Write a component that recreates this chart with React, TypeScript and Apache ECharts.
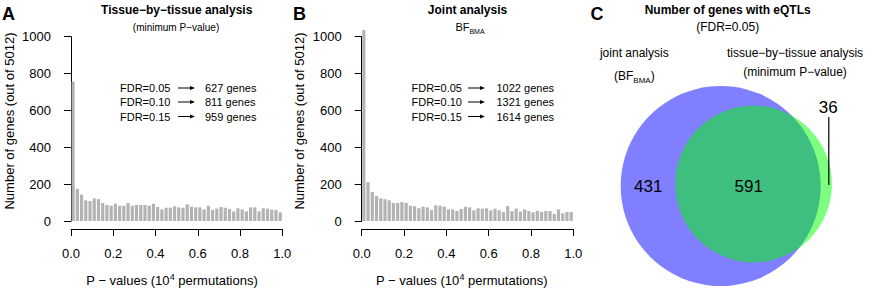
import React, { useEffect, useRef } from "react";
import * as echarts from "echarts";

// ---- data ----
const histA = [756, 174, 143, 112, 108, 123, 119, 98, 87, 83, 94, 83, 83, 98, 83, 87, 87, 87, 83, 94, 76, 63, 72, 72, 80, 74, 72, 90, 78, 74, 74, 63, 83, 60, 67, 76, 72, 65, 52, 69, 63, 52, 74, 74, 52, 69, 67, 61, 60, 47];
const histB = [1036, 210, 157, 136, 123, 118, 112, 98, 98, 103, 98, 83, 80, 69, 78, 74, 60, 85, 83, 78, 63, 63, 54, 65, 77, 74, 58, 69, 67, 69, 58, 67, 58, 49, 81, 54, 67, 51, 63, 54, 47, 56, 49, 54, 54, 38, 63, 42, 49, 49];
const binWidth = 0.02;
const fdrLevels = ["0.05", "0.10", "0.15"];
const genesA = [627, 811, 959];
const genesB = [1022, 1321, 1614];
const jointOnly = 431;
const bothCount = 591;
const tissueOnly = 36;

const FONT = "'Liberation Sans', Arial, Helvetica, sans-serif";

function lensArea(d: number, r1: number, r2: number) {
  const c1 = Math.max(-1, Math.min(1, (d * d + r1 * r1 - r2 * r2) / (2 * d * r1)));
  const c2 = Math.max(-1, Math.min(1, (d * d + r2 * r2 - r1 * r1) / (2 * d * r2)));
  const p = (-d + r1 + r2) * (d + r1 - r2) * (d - r1 + r2) * (d + r1 + r2);
  return r1 * r1 * Math.acos(c1) + r2 * r2 * Math.acos(c2) - 0.5 * Math.sqrt(Math.max(0, p));
}
function solveDistance(r1: number, r2: number, target: number) {
  let lo = Math.abs(r1 - r2) + 1e-6;
  let hi = r1 + r2;
  for (let i = 0; i < 80; i++) {
    const mid = (lo + hi) / 2;
    if (lensArea(mid, r1, r2) > target) lo = mid;
    else hi = mid;
  }
  return (lo + hi) / 2;
}

function txt(x: number, y: number, text: string, opts: any = {}) {
  const align = opts.align || "center";
  const valign = opts.valign || "middle";
  return {
    type: "text",
    x,
    y,
    z: 100,
    rotation: opts.rotation || 0,
    silent: true,
    style: {
      text,
      fontSize: opts.fontSize || 12,
      fontWeight: opts.fontWeight || "normal",
      fontFamily: FONT,
      fill: "#000",
      align,
      verticalAlign: valign,
      textAlign: align,
      textVerticalAlign: valign,
      rich: opts.rich,
    },
  };
}

function arrow(x1: number, x2: number, y: number) {
  return [
    { type: "line", z: 100, silent: true, shape: { x1, y1: y, x2: x2 - 2, y2: y }, style: { stroke: "#000", lineWidth: 1 } },
    { type: "polygon", z: 100, silent: true, shape: { points: [[x2, y], [x2 - 5, y - 2], [x2 - 5, y + 2]] }, style: { fill: "#000" } },
  ];
}

export default function App() {
  const ref = useRef<HTMLDivElement>(null);
  useEffect(() => {
    if (!ref.current) return;
    const chart = echarts.init(ref.current, undefined, { renderer: "svg" });

    // Venn geometry (areas proportional to counts)
    const jointTotal = jointOnly + bothCount;
    const tissueTotal = bothCount + tissueOnly;
    const r1 = 100;
    const areaPerGene = (Math.PI * r1 * r1) / jointTotal;
    const r2 = Math.sqrt((tissueTotal * areaPerGene) / Math.PI);
    const d = solveDistance(r1, r2, bothCount * areaPerGene);
    const c1 = [720.7, 186];
    const c2 = [c1[0] + d, 184];

    const histAxisX = (gi: number) => ({
      gridIndex: gi,
      type: "value",
      min: 0,
      max: 1,
      interval: 0.2,
      offset: 8,
      axisLine: { show: true, onZero: false, lineStyle: { color: "#000", width: 1 } },
      axisTick: { show: true, length: 7, lineStyle: { color: "#000", width: 1 } },
      axisLabel: { fontSize: 13, color: "#000", fontFamily: FONT, margin: 18, formatter: (v: number) => v.toFixed(1) },
      splitLine: { show: false },
    });
    const histAxisY = (gi: number) => ({
      gridIndex: gi,
      type: "value",
      min: 0,
      max: 1000,
      interval: 200,
      offset: 9,
      axisLine: { show: true, lineStyle: { color: "#000", width: 1 } },
      axisTick: { show: true, length: 7, lineStyle: { color: "#000", width: 1 } },
      axisLabel: { fontSize: 13, color: "#000", fontFamily: FONT, margin: 11, formatter: (v: number) => String(v) },
      splitLine: { show: false },
    });
    const histSeries = (gi: number, vals: number[]) => ({
      type: "bar",
      xAxisIndex: gi,
      yAxisIndex: gi,
      data: vals.map((v, i) => [(i + 0.5) * binWidth, v]),
      barWidth: 3.2,
      clip: false,
      silent: true,
      itemStyle: { color: "#b3b3b3" },
    });

    const supRich = {
      a: { fontSize: 13, fontFamily: FONT, fill: "#000", color: "#000", lineHeight: 16 },
      s: { fontSize: 9, fontFamily: FONT, fill: "#000", color: "#000", lineHeight: 16, verticalAlign: "top" },
    };
    const subRich = (fs: number, sfs: number) => ({
      a: { fontSize: fs, fontFamily: FONT, fill: "#000", color: "#000", lineHeight: fs + 4 },
      s: { fontSize: sfs, fontFamily: FONT, fill: "#000", color: "#000", lineHeight: fs + 4, verticalAlign: "bottom" },
    });

    const graphics: any[] = [];
    // Panel letters
    graphics.push(txt(8.5, 14, "A", { fontSize: 18, fontWeight: "bold" }));
    graphics.push(txt(299.5, 14, "B", { fontSize: 18, fontWeight: "bold" }));
    graphics.push(txt(597, 14, "C", { fontSize: 18, fontWeight: "bold" }));
    // Titles
    graphics.push(txt(176.7, 10, "Tissue−by−tissue analysis", { fontSize: 12, fontWeight: "bold" }));
    graphics.push(txt(176, 27, "(minimum P−value)", { fontSize: 10 }));
    graphics.push(txt(467.5, 10, "Joint analysis", { fontSize: 12, fontWeight: "bold" }));
    graphics.push(txt(470, 27, "{a|BF}{s|BMA}", { rich: subRich(11, 7) }));
    graphics.push(txt(727.7, 9.5, "Number of genes with eQTLs", { fontSize: 12, fontWeight: "bold" }));
    graphics.push(txt(727.7, 27, "(FDR=0.05)", { fontSize: 12 }));
    // Axis names
    graphics.push(txt(9.5, 121, "Number of genes (out of 5012)", { fontSize: 13, rotation: Math.PI / 2 }));
    graphics.push(txt(299.5, 121, "Number of genes (out of 5012)", { fontSize: 13, rotation: Math.PI / 2 }));
    graphics.push(txt(172, 280, "{a|P − values (10}{s|4}{a| permutations)}", { rich: supRich }));
    graphics.push(txt(461.7, 280, "{a|P − values (10}{s|4}{a| permutations)}", { rich: supRich }));
    // FDR annotations
    const rowsY = [88, 102, 116.5];
    fdrLevels.forEach((f, i) => {
      graphics.push(txt(120, rowsY[i], `FDR=${f}`, { fontSize: 11, align: "left" }));
      graphics.push(...arrow(178, 195, rowsY[i]));
      graphics.push(txt(205, rowsY[i], `${genesA[i]} genes`, { fontSize: 11, align: "left" }));
      graphics.push(txt(411.5, rowsY[i], `FDR=${f}`, { fontSize: 11, align: "left" }));
      graphics.push(...arrow(468, 485, rowsY[i]));
      graphics.push(txt(496.5, rowsY[i], `${genesB[i]} genes`, { fontSize: 11, align: "left" }));
    });
    // Venn set labels
    graphics.push(txt(634.3, 53.3, "joint analysis", { fontSize: 12 }));
    graphics.push(txt(634.3, 76, "{a|(BF}{s|BMA}{a|)}", { rich: subRich(12, 8) }));
    graphics.push(txt(795, 53.3, "tissue−by−tissue analysis", { fontSize: 12 }));
    graphics.push(txt(795, 72, "(minimum P−value)", { fontSize: 12 }));
    // Venn counts
    graphics.push(txt(648.3, 186, String(jointOnly), { fontSize: 17 }));
    graphics.push(txt(748.7, 186, String(bothCount), { fontSize: 17 }));
    graphics.push(txt(828.3, 107.5, String(tissueOnly), { fontSize: 17 }));
    graphics.push({ type: "line", silent: true, z: 100, shape: { x1: 828.8, y1: 117, x2: 828.8, y2: 185 }, style: { stroke: "#000", lineWidth: 1.2 } });

    const option: any = {
      animation: false,
      backgroundColor: "#fff",
      textStyle: { fontFamily: FONT },
      grid: [
        { left: 71, top: 36.7, width: 211.3, height: 184.3, containLabel: false, outerBoundsMode: "none" },
        { left: 361.7, top: 36.7, width: 211.6, height: 184.3, containLabel: false, outerBoundsMode: "none" },
        { left: 580, top: 0, width: 292, height: 291, containLabel: false, outerBoundsMode: "none" },
      ],
      xAxis: [
        histAxisX(0),
        histAxisX(1),
        { gridIndex: 2, type: "value", min: 580, max: 872, show: false },
      ],
      yAxis: [
        histAxisY(0),
        histAxisY(1),
        { gridIndex: 2, type: "value", min: 0, max: 291, inverse: true, show: false },
      ],
      series: [
        histSeries(0, histA),
        histSeries(1, histB),
        {
          type: "scatter",
          xAxisIndex: 2,
          yAxisIndex: 2,
          silent: true,
          clip: false,
          symbol: "circle",
          data: [{ value: c1, symbolSize: 2 * r1 }],
          itemStyle: { color: "#0000ff", opacity: 0.5 },
          z: 1,
        },
        {
          type: "scatter",
          xAxisIndex: 2,
          yAxisIndex: 2,
          silent: true,
          clip: false,
          symbol: "circle",
          data: [{ value: c2, symbolSize: 2 * r2 }],
          itemStyle: { color: "#00ff00", opacity: 0.5 },
          z: 2,
        },
      ],
      graphic: { elements: graphics },
    };
    chart.setOption(option);
    return () => chart.dispose();
  }, []);

  return (
    <div
      ref={ref}
      style={{ position: "fixed", left: 0, top: 0, width: 872, height: 291, background: "#fff" }}
    />
  );
}
